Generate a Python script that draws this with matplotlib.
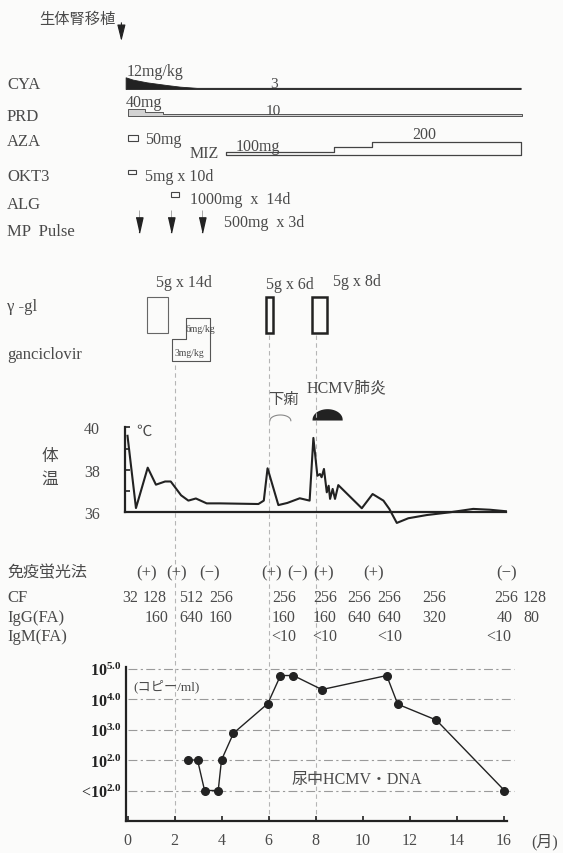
import numpy as np
import matplotlib.pyplot as plt
from matplotlib.patches import Rectangle

# clinical course after living-donor kidney transplant, shared month axis

W, H = 563, 854
X0, PPM = 127.5, 23.5      # pixel of month 0, pixels per month
INK = '#222222'
TXT = '#4a4a4a'
BG = '#fbfbfa'


def mx(px):
    return (px - X0) / PPM


# ---------------- data ----------------
transplant_month = -0.26

cya_months = [-0.08, 0.23, 0.82, 1.67, 2.24, 2.95, 16.73]
cya_dose = [12, 10, 7.7, 5.4, 4, 3, 3]          # mg/kg

prd_months = [0.03, 0.74, 1.52, 16.8]
prd_dose = [40, 25, 10, 10]                     # mg

miz_months = [4.2, 8.79, 10.39, 16.73]
miz_dose = [100, 150, 200, 200]                 # mg

aza_period = (0.0, 0.45)
okt3_period = (0.03, 0.38)
alg_period = (1.83, 2.21)
mp_pulse_months = [0.5, 1.83, 3.16]

ggl_periods = [(0.84, 1.72), (5.88, 6.19), (7.84, 8.48)]
ggl_labels = ['5g x 14d', '5g x 6d', '5g x 8d']

gcv_months = [1.91, 2.49, 3.51]
gcv_dose = [3, 6, 6]                            # mg/kg

diarrhea_period = (6.06, 6.95)
pneumonia_period = (7.91, 9.12)

temp_months = [0.0, 0.36, 0.86, 1.21, 1.6, 1.84, 2.28, 2.59, 2.91, 3.37, 3.94,
               5.57, 5.8, 5.96, 6.42, 6.8, 7.33, 7.75, 7.91, 8.08, 8.19, 8.26,
               8.36, 8.48, 8.56, 8.62, 8.73, 8.83, 8.97, 9.97, 10.43, 10.89,
               11.14, 11.46, 11.95, 12.73, 13.72, 14.71, 15.43, 16.1]
temp_c = [39.6, 36.2, 38.1, 37.3, 37.45, 37.45, 36.8, 36.55, 36.65, 36.42, 36.42,
          36.39, 36.55, 38.07, 36.34, 36.44, 36.66, 36.55, 39.5, 37.72, 37.8, 37.65,
          38.04, 36.94, 37.25, 36.63, 37.1, 36.63, 37.28, 36.19, 36.86, 36.55,
          36.16, 35.5, 35.72, 35.87, 36.0, 36.16, 36.12, 36.05]

fa_months = [0.82, 2.09, 3.51, 6.11, 7.23, 8.36, 10.46, 16.15]
fa_result = ['(+)', '(+)', '(−)', '(+)', '(−)', '(+)', '(+)', '(−)']
cf_months = [0.1, 1.17, 2.72, 3.97, 6.65, 8.4, 9.85, 11.15, 13.06, 16.12, 17.34]
cf_titer = ['32', '128', '512', '256', '256', '256', '256', '256', '256', '256', '128']
igg_months = [1.22, 2.72, 3.97, 6.65, 8.4, 9.85, 11.15, 13.06, 16.04, 17.19]
igg_titer = ['160', '640', '160', '160', '160', '640', '640', '320', '40', '80']
igm_months = [6.65, 8.4, 11.15, 15.81]
igm_titer = ['<10', '<10', '<10', '<10']

dna_months = [2.57, 2.98, 3.28, 3.86, 4.0, 4.51, 5.97, 6.51, 7.06, 8.27,
              11.03, 11.5, 13.14, 16.04]
# log10 copies/ml, 1.0 = the "<10^2.0" row
dna_log = [2.0, 2.0, 1.0, 1.0, 2.0, 2.88, 3.85, 4.77, 4.77, 4.31,
           4.77, 3.83, 3.31, 1.0]
dna_levels = [1, 2, 3, 4, 5]
dna_level_labels = [r'<$\mathbf{10^{2.0}}$', r'$\mathbf{10^{2.0}}$',
                    r'$\mathbf{10^{3.0}}$', r'$\mathbf{10^{4.0}}$',
                    r'$\mathbf{10^{5.0}}$']
month_ticks = list(range(0, 17, 2))
event_months = [2, 6, 8]

# ---------------- figure ----------------
plt.rcParams['font.family'] = ['Liberation Serif', 'Noto Sans CJK JP']
plt.rcParams['mathtext.fontset'] = 'custom'
plt.rcParams['mathtext.rm'] = 'Liberation Serif'
plt.rcParams['mathtext.bf'] = 'Liberation Serif:bold'

fig = plt.figure(figsize=(W / 100, H / 100), dpi=100, facecolor=BG)

ov = fig.add_axes([0, 0, 1, 1])
ov.set_xlim(mx(0), mx(W))
ov.set_ylim(H, 0)
ov.axis('off')


def px_axes(left, right, top, bottom):
    ax = fig.add_axes([left / W, 1 - bottom / H, (right - left) / W, (bottom - top) / H])
    ax.set_xlim(mx(left), mx(right))
    ax.patch.set_alpha(0)
    return ax


def label(xpx, ypx, s, size=11, ha='left', **kw):
    ov.text(mx(xpx), ypx, s, fontsize=size, ha=ha, va='center', color=TXT, **kw)


# event guide lines
ov.vlines(event_months, [366, 336, 336], 822, colors='#b5b5b5', lw=0.8,
          linestyles=(0, (4, 3)))

# transplant arrow
ov.annotate('', xy=(transplant_month, 45), xytext=(transplant_month, 21),
            arrowprops=dict(arrowstyle='-|>,head_length=1.0,head_width=0.25',
                            color=INK, lw=0.8))
label(39.5, 20, '生体腎移植')

# row names
for name, y in [('CYA', 85), ('PRD', 116.7), ('AZA', 141.7), ('OKT3', 176.7),
                ('ALG', 205), ('MP  Pulse', 231.7), ('γ -gl', 306.7),
                ('ganciclovir', 355)]:
    label(7, y, name, size=12)

# CYA
cya_h = (np.array(cya_dose) - 2) * 1.17
ov.fill_between(cya_months, 90, 90 - cya_h, color=INK, lw=0.6)
label(127, 71.7, '12mg/kg', size=11.5)
label(273.6, 84.5, '3', ha='center')

# PRD
prd_h = 0.5 + 0.17 * np.array(prd_dose)
ov.fill_between(prd_months, 117.3, 117.3 - prd_h, step='post',
                facecolor='#d2d2d2', edgecolor='#555555', lw=0.7)
label(126, 103.3, '40mg', size=11.5)
label(273, 111.7, '10', ha='center')

# AZA, OKT3, ALG small boxes
for (a, b), top, hgt in [(aza_period, 136, 5.7), (okt3_period, 170.7, 4.5),
                         (alg_period, 192.7, 5.6)]:
    ov.add_patch(Rectangle((a, top), b - a, hgt, fill=False, ec='#444444', lw=0.8))
label(145.4, 140, '50mg', size=11.5)
label(145.4, 177, '5mg x 10d', size=11.5)
label(190.3, 200, '1000mg  x  14d', size=11.5)

# MIZ
miz_h = 2.7 + (np.array(miz_dose) - 100) * 0.106
ov.fill_between(miz_months, 156, 156 - miz_h, step='post',
                facecolor='none', edgecolor='#444444', lw=0.9)
label(189.6, 153.5, 'MIZ', size=11.5)
label(235.2, 146.7, '100mg', size=11.5)
label(424.6, 135, '200', ha='center', size=11.5)

# MP pulse
ov.vlines(mp_pulse_months, 211, 219, colors='#999999', lw=0.6)
ov.plot(mp_pulse_months, [225.8] * len(mp_pulse_months), ls='none',
        marker=[(-0.45, 1), (0.45, 1), (0, -1)], ms=11, color=INK)
label(224.4, 223.3, '500mg  x 3d', size=11.5)

# gamma globulin
for (a, b), lw, ec in zip(ggl_periods, [0.8, 1.8, 1.8], ['#666666', INK, INK]):
    ov.add_patch(Rectangle((a, 298.3), b - a, 36, fill=False, ec=ec, lw=lw))
label(183.6, 283.3, ggl_labels[0], ha='center', size=11.5)
label(290.3, 285, ggl_labels[1], ha='center', size=11.5)
label(357, 281.7, ggl_labels[2], ha='center', size=11.5)

# ganciclovir
gcv_h = 7.2 * np.array(gcv_dose)
ov.fill_between(gcv_months, 362, 362 - gcv_h, step='post',
                facecolor='none', edgecolor='#555555', lw=0.8)
label(185.5, 330, '6mg/kg', size=7)
label(174.3, 354, '3mg/kg', size=7)

# episodes
t = np.linspace(0, np.pi, 60)
c, w = sum(diarrhea_period) / 2, diarrhea_period[1] - diarrhea_period[0]
ov.plot(c + w / 2 * np.cos(t), 421.7 - 5.7 * np.sin(t), color='#888888', lw=0.8)
c, w = sum(pneumonia_period) / 2, pneumonia_period[1] - pneumonia_period[0]
ov.fill(c + w / 2 * np.cos(t), 420.7 - 9.7 * np.sin(t), color=INK, lw=1.2)
label(283.7, 400, '下痢', ha='center')
label(346.5, 388, 'HCMV肺炎', ha='center', size=11.5)

# ---------------- body temperature ----------------
axt = px_axes(125, 506, 428.3, 513.3)
axt.set_ylim(36, 40)
axt.plot(temp_months, temp_c, color=INK, lw=1.5, clip_on=False)
for s in ['top', 'right']:
    axt.spines[s].set_visible(False)
for s in ['left', 'bottom']:
    axt.spines[s].set_linewidth(1.6)
    axt.spines[s].set_color(INK)
axt.set_xticks([])
axt.set_yticks([36, 38, 40])
axt.set_yticks([37, 39], minor=True)
axt.tick_params(axis='y', which='both', direction='in', length=3.5, width=1.2,
                color=INK, labelsize=11.5, labelcolor=TXT, pad=18)
label(136.4, 432, '℃')
label(50, 457, '体', ha='center', size=12)
label(50, 480, '温', ha='center', size=12)

# ---------------- serology table ----------------
label(7, 573.3, '免疫蛍光法', size=11.5)
label(7, 598.3, 'CF', size=12)
label(7, 618.3, 'IgG(FA)', size=12)
label(7, 636.7, 'IgM(FA)', size=12)
for m, s in zip(fa_months, fa_result):
    ov.text(m, 573.3, s, fontsize=12, ha='center', va='center', color=TXT)
for m, s in zip(cf_months, cf_titer):
    ov.text(m, 598.3, s, fontsize=11.5, ha='center', va='center', color=TXT)
for m, s in zip(igg_months, igg_titer):
    ov.text(m, 618.3, s, fontsize=11.5, ha='center', va='center', color=TXT)
for m, s in zip(igm_months, igm_titer):
    ov.text(m, 636.7, s, fontsize=11.5, ha='center', va='center', color=TXT)

# ---------------- urinary HCMV DNA ----------------
axd = px_axes(126, 507, 668, 822)
axd.set_ylim(0, 5.05)
axd.hlines(dna_levels, 0, mx(514), colors='#9a9a9a', lw=0.8,
           linestyles=(0, (8, 3, 2, 3)), clip_on=False)
axd.plot(dna_months, dna_log, '-o', color=INK, lw=1.0, ms=5.5, clip_on=False)
for s in ['top', 'right']:
    axd.spines[s].set_visible(False)
for s in ['left', 'bottom']:
    axd.spines[s].set_linewidth(1.6)
    axd.spines[s].set_color(INK)
axd.set_xticks(month_ticks)
axd.tick_params(axis='x', direction='in', length=3.5, width=1.2, color=INK,
                labelsize=11.5, labelcolor=TXT, pad=8)
axd.set_yticks(dna_levels, dna_level_labels)
axd.tick_params(axis='y', length=0, labelsize=11.5, labelcolor=INK, pad=3)
label(167, 686.7, '(コピー/ml)', size=9.5, ha='center')
label(356.7, 780, '尿中HCMV・DNA', ha='center', size=11.5)
label(545, 842, '(月)', ha='center', size=11.5)

fig.savefig('out.png', dpi=100, facecolor=BG)
